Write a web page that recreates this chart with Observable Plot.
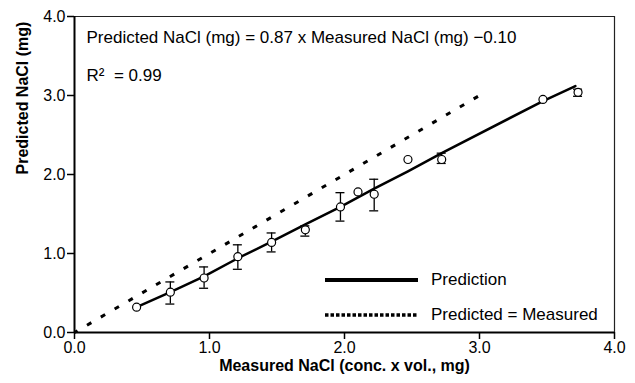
<!DOCTYPE html>
<html>
<head>
<meta charset="utf-8">
<script src="https://cdn.jsdelivr.net/npm/d3@7"></script>
<script src="https://cdn.jsdelivr.net/npm/@observablehq/plot@0.6"></script>
<style>
  html, body { margin: 0; padding: 0; background: #fff; }
  #wrap { position: relative; width: 635px; height: 383px; font-family: 'Liberation Sans', Arial, sans-serif; }
  #legend { position: absolute; left: 325px; top: 262px; font-size: 17px; color: #000; }
  .row { display: flex; align-items: center; height: 35px; }
  .row svg { width: 94px; height: 8px; margin-right: 12px; }
</style>
</head>
<body>
<div id="wrap"></div>
<script>
// Measured vs predicted data points
const measured  = [0.46, 0.71, 0.96, 1.21, 1.46, 1.71, 1.97, 2.10, 2.22, 2.47, 2.72, 3.47, 3.73];
const predicted = [0.32, 0.51, 0.69, 0.96, 1.14, 1.30, 1.59, 1.78, 1.75, 2.19, 2.19, 2.95, 3.04];
const errLow    = [null, 0.36, 0.56, 0.80, 1.02, 1.22, 1.41, null, 1.54, null, 2.14, null, 2.99];
const errHigh   = [null, 0.64, 0.83, 1.11, 1.26, 1.35, 1.77, null, 1.94, null, 2.27, null, 3.08];
// Prediction line
const lineX = [0.46, 0.71, 0.96, 1.21, 1.46, 1.71, 1.97, 2.22, 2.47, 2.72, 3.47, 3.71];
const lineY = [0.32, 0.51, 0.71, 0.94, 1.15, 1.37, 1.59, 1.82, 2.04, 2.27, 2.93, 3.12];
// Identity line (Predicted = Measured)
const identity = [0, 3];
// Axis ticks
const ticks = [0, 1, 2, 3, 4];
const xLabel = "Measured NaCl (conc. x vol., mg)";
const yLabel = "Predicted NaCl (mg)";
const eqText = "Predicted NaCl (mg) = 0.87 x Measured NaCl (mg) \u22120.10";
const r2Text = "R\u00B2\u00A0 = 0.99";
const legendLabels = ["Prediction", "Predicted = Measured"];

const points = measured.map((x, i) => ({x, y: predicted[i], lo: errLow[i], hi: errHigh[i]}));
const bars = points.filter(d => d.lo != null);
const predLine = lineX.map((x, i) => ({x, y: lineY[i]}));
const idLine = identity.map(v => ({x: v, y: v}));
const fmt = d3.format(".1f");

const chart = Plot.plot({
  width: 635,
  height: 383,
  marginLeft: 74,
  marginRight: 21,
  marginTop: 16,
  marginBottom: 51,
  style: {fontFamily: "'Liberation Sans', Arial, sans-serif", fontSize: "16px", background: "white", color: "black"},
  x: {domain: [0, 4]},
  y: {domain: [0, 4]},
  marks: [
    Plot.ruleY([4], {stroke: "#222", strokeWidth: 1.2}),
    Plot.ruleX([4], {stroke: "#222", strokeWidth: 1.2}),
    Plot.line(idLine, {x: "x", y: "y", stroke: "black", strokeWidth: 3, strokeLinecap: "butt", strokeDasharray: "5,11", strokeDashoffset: 1.5}),
    Plot.line(predLine, {x: "x", y: "y", stroke: "black", strokeWidth: 2.5}),
    Plot.ruleX(bars, {x: "x", y1: "lo", y2: "hi", stroke: "black", strokeWidth: 1.3}),
    Plot.ruleY(bars, {y: "lo", x1: "x", x2: "x", insetLeft: -4.5, insetRight: -4.5, stroke: "black", strokeWidth: 1.3}),
    Plot.ruleY(bars, {y: "hi", x1: "x", x2: "x", insetLeft: -4.5, insetRight: -4.5, stroke: "black", strokeWidth: 1.3}),
    Plot.dot(points, {x: "x", y: "y", r: 4, fill: "white", stroke: "black", strokeWidth: 1.2}),
    Plot.ruleY([0], {stroke: "black", strokeWidth: 2}),
    Plot.ruleX([0], {stroke: "black", strokeWidth: 2}),
    Plot.axisX({ticks, tickFormat: fmt, tickSize: 7, tickPadding: 2, label: null, fontSize: 16, strokeWidth: 1.5}),
    Plot.axisY({ticks, tickFormat: fmt, tickSize: 7, tickPadding: 2, label: null, fontSize: 16, strokeWidth: 1.5}),
    Plot.text([xLabel], {text: d => d, frameAnchor: "bottom", dy: 38, fontWeight: "bold", fontSize: 16}),
    Plot.text([yLabel], {text: d => d, frameAnchor: "left", dx: -52, rotate: -90, fontWeight: "bold", fontSize: 16}),
    Plot.text([eqText], {text: d => d, frameAnchor: "top-left", textAnchor: "start", lineAnchor: "middle", dx: 12, dy: 21, fontSize: 17}),
    Plot.text([r2Text], {text: d => d, frameAnchor: "top-left", textAnchor: "start", lineAnchor: "middle", dx: 12, dy: 59, fontSize: 17})
  ]
});

const wrap = document.getElementById("wrap");
wrap.appendChild(chart);

const legend = document.createElement("div");
legend.id = "legend";
legend.innerHTML = `
  <div class="row"><svg><line x1="0" y1="4" x2="93" y2="4" stroke="black" stroke-width="4"/></svg><span>${legendLabels[0]}</span></div>
  <div class="row"><svg><line x1="0" y1="4" x2="93" y2="4" stroke="black" stroke-width="3.5" stroke-dasharray="3.5,2"/></svg><span>${legendLabels[1]}</span></div>`;
wrap.appendChild(legend);
</script>
</body>
</html>
